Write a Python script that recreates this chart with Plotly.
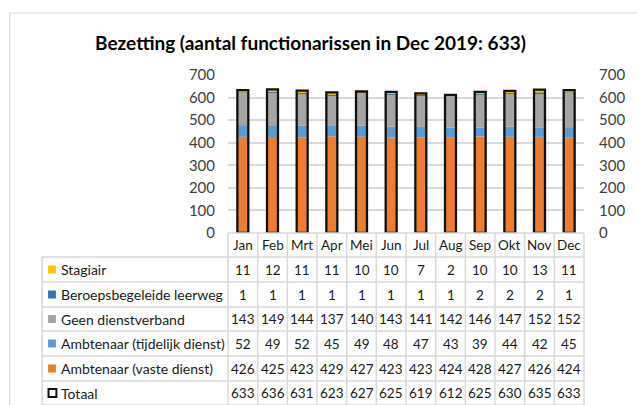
import numpy as np
import plotly.graph_objects as go

months = ["Jan", "Feb", "Mrt", "Apr", "Mei", "Jun", "Jul", "Aug", "Sep", "Okt", "Nov", "Dec"]
stagiair = [11, 12, 11, 11, 10, 10, 7, 2, 10, 10, 13, 11]
bbl = [1, 1, 1, 1, 1, 1, 1, 1, 2, 2, 2, 1]
geen = [143, 149, 144, 137, 140, 143, 141, 142, 146, 147, 152, 152]
tijdelijk = [52, 49, 52, 45, 49, 48, 47, 43, 39, 44, 42, 45]
vaste = [426, 425, 423, 429, 427, 423, 423, 424, 428, 427, 426, 424]
totaal = [633, 636, 631, 623, 627, 625, 619, 612, 625, 630, 635, 633]

title = "Bezetting (aantal functionarissen in Dec 2019: 633)"
y_ticks = [0, 100, 200, 300, 400, 500, 600, 700]

# stacking order, bottom to top
stack = [
    ("Ambtenaar (vaste dienst)", vaste, "#ED7D31"),
    ("Ambtenaar (tijdelijk dienst)", tijdelijk, "#5B9BD5"),
    ("Geen dienstverband", geen, "#A5A5A5"),
    ("Beroepsbegeleide leerweg", bbl, "#2E75B6"),
    ("Stagiair", stagiair, "#FFC000"),
]
# table row order, top to bottom
table_rows = [
    ("Stagiair", stagiair, "#FFC000"),
    ("Beroepsbegeleide leerweg", bbl, "#2E75B6"),
    ("Geen dienstverband", geen, "#A5A5A5"),
    ("Ambtenaar (tijdelijk dienst)", tijdelijk, "#5B9BD5"),
    ("Ambtenaar (vaste dienst)", vaste, "#ED7D31"),
    ("Totaal", totaal, None),
]

W, H = 637, 405
L, R, T, B = 228, 590, 75, 233
FONT = "Lato"
GRID = "#D9D9D9"
BAR_W = 0.37


def px(x):
    return (x - L) / (R - L)


def py(y):
    return (B - y) / (B - T)


fig = go.Figure()
base = np.zeros(len(months))
for name, vals, color in stack:
    fig.add_trace(go.Bar(
        x=months, y=vals, base=base.copy(), name=name, width=BAR_W,
        marker=dict(color=color, line=dict(width=0)), showlegend=False,
    ))
    base = base + np.array(vals)

fig.add_trace(go.Bar(
    x=months, y=totaal, name="Totaal", width=BAR_W,
    marker=dict(color="rgba(0,0,0,0)", line=dict(color="#111111", width=2.3)),
    showlegend=False,
))
# dummy trace to show secondary axis
fig.add_trace(go.Scatter(x=months, y=totaal, yaxis="y2", mode="markers",
                         marker=dict(opacity=0), hoverinfo="skip", showlegend=False))

shapes = []
annotations = []

# outer frame
shapes.append(dict(type="rect", xref="paper", yref="paper",
                   x0=px(6), x1=px(660), y0=py(13), y1=py(430),
                   line=dict(color=GRID, width=1.2), layer="below"))

# table geometry
header_top, header_bot = 233, 257
row_edges = [257, 282, 307, 331, 356, 381, 405]
label_left = 39
col_w = (R - L) / len(months)
col_edges = [L + i * col_w for i in range(len(months) + 1)]
line_style = dict(color=GRID, width=1.5)

shapes.append(dict(type="line", xref="paper", yref="paper",
                   x0=px(L), x1=px(R), y0=py(header_top), y1=py(header_top), line=line_style))
for ry in row_edges:
    shapes.append(dict(type="line", xref="paper", yref="paper",
                       x0=px(label_left), x1=px(R), y0=py(ry), y1=py(ry), line=line_style))
shapes.append(dict(type="line", xref="paper", yref="paper",
                   x0=px(label_left), x1=px(label_left), y0=py(header_bot), y1=py(410), line=line_style))
for cx in col_edges:
    shapes.append(dict(type="line", xref="paper", yref="paper",
                       x0=px(cx), x1=px(cx), y0=py(header_top), y1=py(410), line=line_style))

TXT = "#1a1a1a"
# header months
for m in months:
    annotations.append(dict(x=m, y=py((header_top + header_bot) / 2), xref="x", yref="paper",
                            text=m, showarrow=False, font=dict(family=FONT, size=13.5, color=TXT),
                            xanchor="center", yanchor="middle"))

for i, (name, vals, color) in enumerate(table_rows):
    cy = (row_edges[i] + row_edges[i + 1]) / 2
    if color is not None:
        shapes.append(dict(type="rect", xref="paper", yref="paper",
                           x0=px(45), x1=px(53), y0=py(cy - 4), y1=py(cy + 4),
                           fillcolor=color, line=dict(width=0)))
    else:
        shapes.append(dict(type="rect", xref="paper", yref="paper",
                           x0=px(45.5), x1=px(53.5), y0=py(cy - 4), y1=py(cy + 4),
                           fillcolor="rgba(0,0,0,0)", line=dict(color="#111111", width=2)))
    annotations.append(dict(x=px(56), y=py(cy), xref="paper", yref="paper", text=name,
                            showarrow=False, xanchor="left", yanchor="middle",
                            font=dict(family=FONT, size=14, color=TXT)))
    for m, v in zip(months, vals):
        annotations.append(dict(x=m, y=py(cy), xref="x", yref="paper", text=str(v),
                                showarrow=False, xanchor="center", yanchor="middle",
                                font=dict(family=FONT, size=13.5, color=TXT)))

# title
annotations.append(dict(x=px(312), y=py(42), xref="paper", yref="paper", text="<b>" + title + "</b>",
                        showarrow=False, xanchor="center", yanchor="middle",
                        font=dict(family=FONT, size=19, color="#000000")))

fig.update_layout(
    width=W, height=H,
    margin=dict(l=L, r=W - R, t=T, b=H - B),
    paper_bgcolor="white", plot_bgcolor="white",
    barmode="overlay",
    showlegend=False,
    xaxis=dict(range=[-0.5, len(months) - 0.5], showticklabels=False, showgrid=False,
               zeroline=False, showline=False, ticks=""),
    yaxis=dict(range=[0, 700], tickvals=y_ticks, showgrid=True, gridcolor=GRID, gridwidth=1.5,
               zeroline=False, showline=False, ticks="", ticklabelstandoff=12,
               tickfont=dict(family=FONT, size=15, color="#404040")),
    yaxis2=dict(range=[0, 700], tickvals=y_ticks, overlaying="y", side="right", showgrid=False,
                zeroline=False, showline=False, ticks="", ticklabelstandoff=14,
                tickfont=dict(family=FONT, size=15, color="#404040")),
    shapes=shapes,
    annotations=annotations,
)

fig.write_html("out.html", config={"displayModeBar": False},
               post_script="document.body.style.margin='0';document.body.style.overflow='hidden';")
